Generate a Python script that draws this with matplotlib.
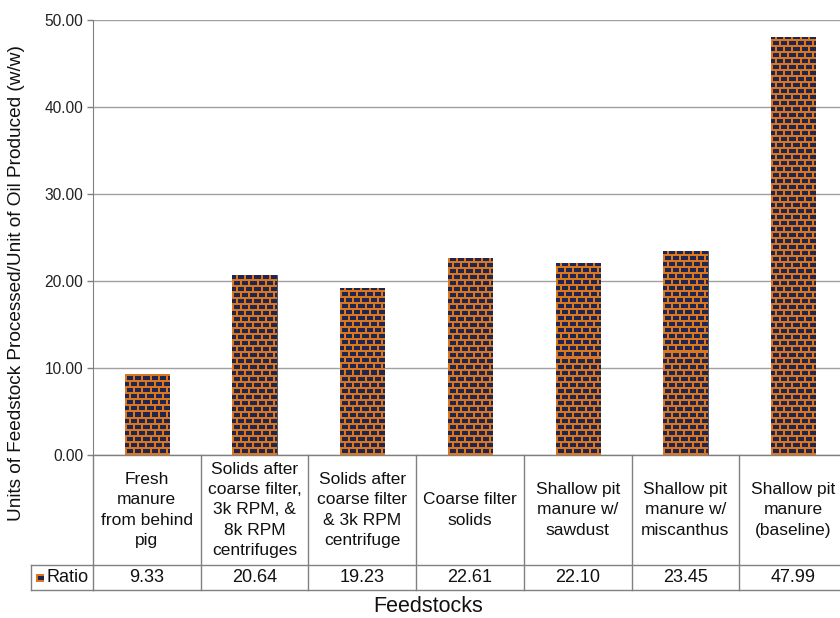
import numpy as np
import matplotlib.pyplot as plt
from matplotlib.transforms import blended_transform_factory

plt.rcParams['font.family'] = ['Liberation Sans', 'DejaVu Sans']

feedstocks = ["Fresh\nmanure\nfrom behind\npig",
              "Solids after\ncoarse filter,\n3k RPM, &\n8k RPM\ncentrifuges",
              "Solids after\ncoarse filter\n& 3k RPM\ncentrifuge",
              "Coarse filter\nsolids",
              "Shallow pit\nmanure w/\nsawdust",
              "Shallow pit\nmanure w/\nmiscanthus",
              "Shallow pit\nmanure\n(baseline)"]
ratio = [9.33, 20.64, 19.23, 22.61, 22.10, 23.45, 47.99]
yticks = [0, 10, 20, 30, 40, 50]

NAVY = (0.12, 0.15, 0.32)
ORANGE = (0.86, 0.47, 0.12)
GRID = '#a0a0a0'
LINE = '#808080'
TXT = '#111111'


def brick(nx, ny):
    # navy bricks with orange mortar, rows offset by half a brick
    img = np.empty((ny, nx, 3))
    img[:] = NAVY
    yy, xx = np.mgrid[0:ny, 0:nx]
    row = yy // 6
    mortar_h = (yy % 6) < 2
    mortar_v = ((xx + 4 * (row % 2)) % 8) < 2
    img[mortar_h | mortar_v] = ORANGE
    return img


W, H = 840, 618
fig = plt.figure(figsize=(W / 100, H / 100), dpi=100)
x0, x1, ytop, ybot = 93, 847, 20, 455
ax = fig.add_axes([x0 / W, 1 - ybot / H, (x1 - x0) / W, (ybot - ytop) / H])

n = len(ratio)
xs = np.arange(n)

bars = ax.bar(xs, ratio, width=0.41, color=NAVY, edgecolor='#505050',
              linewidth=0.6, zorder=3)

# fill each bar with a pixel-aligned brick texture
px_x = (x1 - x0) / n
px_y = (ybot - ytop) / 50
for b in bars:
    bx, bw, bh = b.get_x(), b.get_width(), b.get_height()
    im = ax.imshow(brick(int(round(bw * px_x)), int(round(bh * px_y))),
                   extent=(bx, bx + bw, 0, bh), origin='lower',
                   interpolation='nearest', aspect='auto', zorder=3)
    im.set_clip_path(b)
ax.set_xlim(-0.5, n - 0.5)
ax.set_ylim(0, 50)

ax.set_yticks(yticks)
ax.set_yticklabels(['%.2f' % v for v in yticks], fontsize=11.2, color='#222222')
ax.tick_params(axis='y', length=4, color=LINE, width=1, pad=3)
ax.set_xticks([])
ax.grid(axis='y', color=GRID, linewidth=1, zorder=0)
for s in ['top', 'right', 'bottom']:
    ax.spines[s].set_visible(False)
ax.spines['left'].set_color(LINE)

# data table under the axis
tr = blended_transform_factory(ax.transData, ax.transAxes)
h_ax = ybot - ytop
y_mid = -(565 - ybot) / h_ax
y_low = -(590 - ybot) / h_ax
kw = dict(transform=tr, color=LINE, linewidth=1, clip_on=False)
ax.plot([-0.5, n - 0.5], [0, 0], **kw)
ax.plot([-0.5, n - 0.5], [y_mid, y_mid], **kw)
ax.plot([-0.5, n - 0.5], [y_low, y_low], **kw)
ax.plot([-0.5, -0.5], [0, y_low], **kw)
for i in range(n):
    ax.plot([i + 0.5, i + 0.5], [0, y_low], **kw)
    ax.text(i, y_mid / 2, feedstocks[i], transform=tr, ha='center',
            va='center', fontsize=12.5, linespacing=1.42, color=TXT)
    ax.text(i, (y_mid + y_low) / 2, '%.2f' % ratio[i], transform=tr,
            ha='center', va='center', fontsize=13, color=TXT)

# row header cell with legend key
fl, fr = 31 / W, x0 / W
fy0, fy1 = 1 - 590 / H, 1 - 565 / H
for xa, ya in [([fl, fr], [fy0, fy0]), ([fl, fr], [fy1, fy1]), ([fl, fl], [fy0, fy1])]:
    fig.add_artist(plt.Line2D(xa, ya, color=LINE, linewidth=1))
kax = fig.add_axes([36 / W, 1 - 582 / H, 8 / W, 8 / H])
kax.imshow(brick(8, 8), interpolation='nearest', aspect='auto')
kax.axis('off')
fig.text(46 / W, 1 - 578 / H, 'Ratio', fontsize=13, va='center', ha='left',
         color=TXT)

fig.text(428 / W, 1 - 607 / H, 'Feedstocks', fontsize=15.5, ha='center',
         va='center', color=TXT)
fig.text(17 / W, 1 - 283 / H,
         'Units of Feedstock Processed/Unit of Oil Produced (w/w)',
         fontsize=13.7, rotation=90, ha='center', va='center', color=TXT)

fig.savefig('out.png', dpi=100)
